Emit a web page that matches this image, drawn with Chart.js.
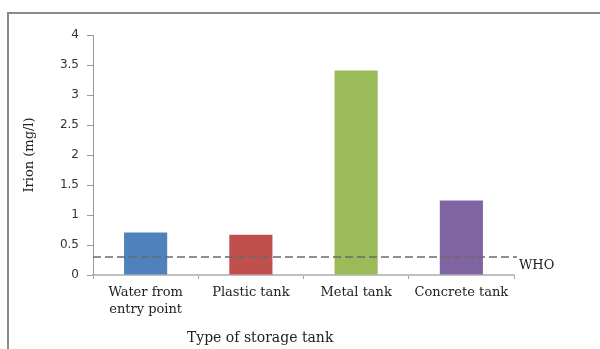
<!DOCTYPE html>
<html>
<head>
<meta charset="utf-8">
<script src="https://cdn.jsdelivr.net/npm/chart.js@4.4.1/dist/chart.umd.min.js"></script>
<style>
  html, body { margin: 0; padding: 0; background: #fff; }
  #wrap { width: 600px; height: 349px; position: relative; }
</style>
</head>
<body>
<div id="wrap"><canvas id="ironChart" width="600" height="349"></canvas></div>
<script>
// iron concentration per storage type, mg/l
const tankTypes = [['Water from', 'entry point'], 'Plastic tank', 'Metal tank', 'Concrete tank'];
const ironLevels = [0.71, 0.67, 3.41, 1.24];
const barColors = ['#4f81bd', '#c0504d', '#9bbb59', '#8064a2'];
const whoLimit = 0.3;
const whoLabel = 'WHO';
const xTitle = 'Type of storage tank';
const yTitle = 'Irion (mg/l)';

const serif = "'DejaVu Serif', serif";
const sans = "'DejaVu Sans', sans-serif";

// outer frame lines (left and top)
const framePlugin = {
    id: 'frame',
    beforeDraw(chart) {
        const ctx = chart.ctx;
        ctx.save();
        ctx.strokeStyle = '#8a8a8a';
        ctx.lineWidth = 2;
        ctx.beginPath();
        ctx.moveTo(8, chart.height);
        ctx.lineTo(8, 13);
        ctx.lineTo(chart.width, 13);
        ctx.stroke();
        ctx.restore();
    }
};

// dashed WHO guideline + its label, and the x axis title
const whoPlugin = {
    id: 'whoLine',
    afterDatasetsDraw(chart) {
        const ctx = chart.ctx;
        const area = chart.chartArea;
        const y = chart.scales.y.getPixelForValue(whoLimit);
        ctx.save();
        ctx.strokeStyle = '#6a6a6a';
        ctx.lineWidth = 1.3;
        ctx.setLineDash([8, 4]);
        ctx.beginPath();
        ctx.moveTo(area.left, y);
        ctx.lineTo(area.right + 3, y);
        ctx.stroke();
        ctx.setLineDash([]);
        ctx.fillStyle = '#222';
        ctx.font = '13px ' + serif;
        ctx.textBaseline = 'middle';
        ctx.textAlign = 'left';
        ctx.fillText(whoLabel, area.right + 5, y + 9);

        ctx.font = '14px ' + serif;
        ctx.textAlign = 'center';
        ctx.fillText(xTitle, area.left + (area.right - area.left) * 0.397, chart.height - 11);
        ctx.restore();
    }
};

new Chart(document.getElementById('ironChart'), {
    type: 'bar',
    data: {
        labels: tankTypes,
        datasets: [{
            data: ironLevels,
            backgroundColor: barColors,
            categoryPercentage: 1,
            barPercentage: 0.41
        }]
    },
    options: {
        responsive: false,
        animation: false,
        layout: { padding: { left: 16, top: 35, right: 86, bottom: 0 } },
        plugins: {
            legend: { display: false },
            tooltip: { enabled: false }
        },
        scales: {
            x: {
                grid: { drawOnChartArea: false, drawTicks: true, tickLength: 4, color: '#a6a6a6' },
                border: { color: '#bfbfbf', width: 2 },
                ticks: {
                    color: '#222',
                    padding: 5,
                    maxRotation: 0,
                    autoSkip: false,
                    font: { family: serif, size: 13, lineHeight: 1.3 }
                },
                afterFit(scale) { scale.height = 74; }
            },
            y: {
                min: 0,
                max: 4,
                grid: { drawOnChartArea: false, drawTicks: true, tickLength: 6, color: '#9a9a9a' },
                border: { color: '#9a9a9a', width: 1 },
                ticks: {
                    stepSize: 0.5,
                    color: '#333',
                    padding: 8,
                    font: { family: sans, size: 12 },
                    callback: (v) => String(v)
                },
                title: {
                    display: true,
                    text: yTitle,
                    color: '#222',
                    padding: { top: 6, bottom: 0 },
                    font: { family: serif, size: 13 }
                },
                afterFit(scale) { scale.width = 77; }
            }
        }
    },
    plugins: [framePlugin, whoPlugin]
});
</script>
</body>
</html>
